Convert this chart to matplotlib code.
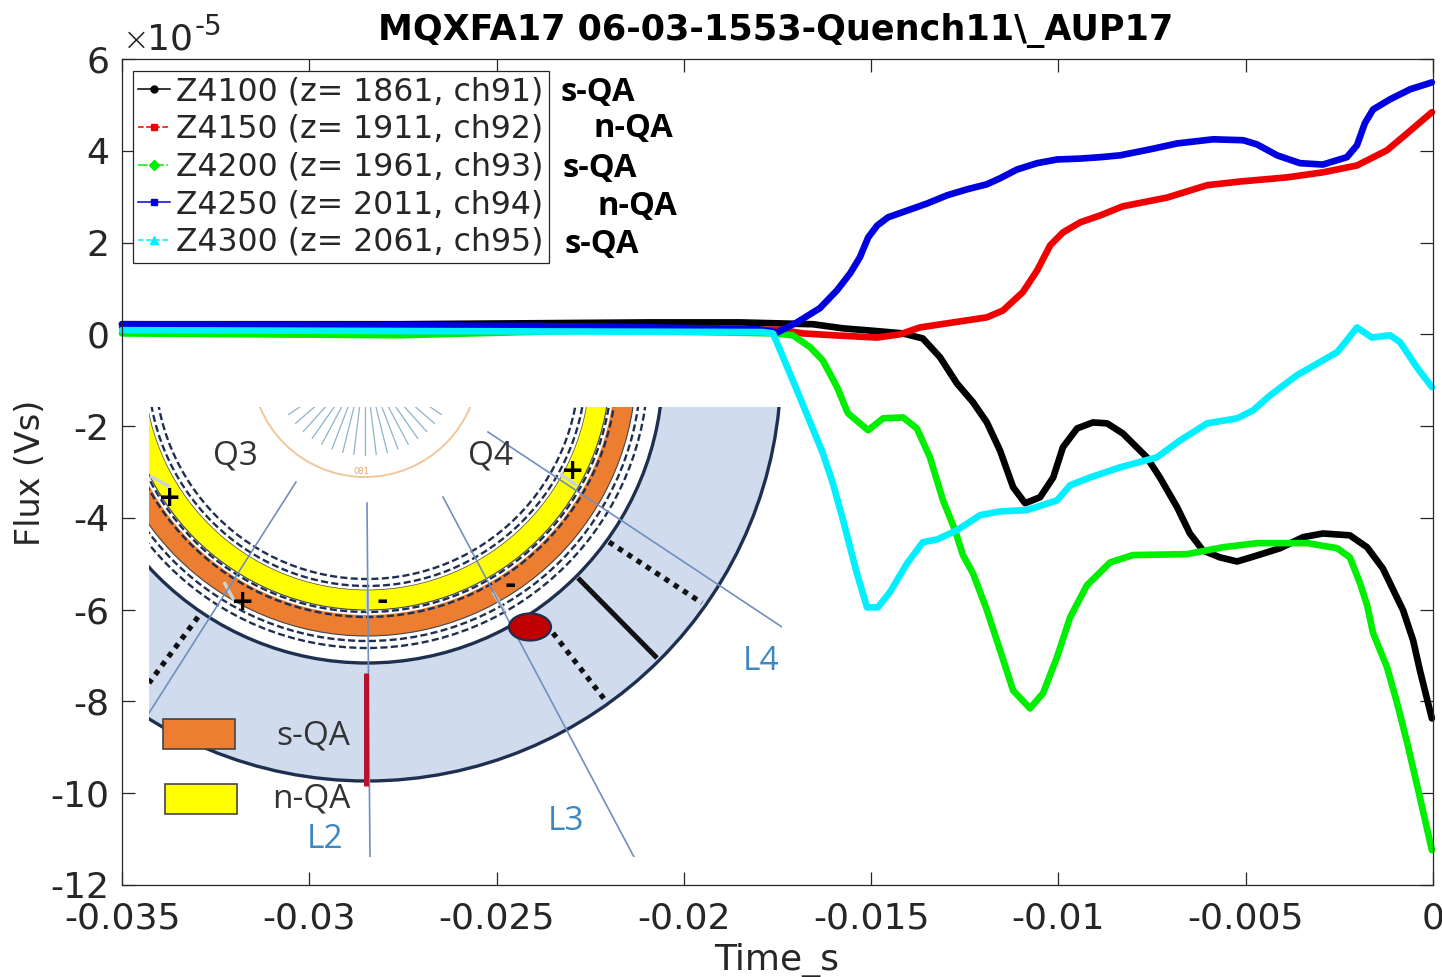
import numpy as np
import matplotlib
matplotlib.use("Agg")
import matplotlib.pyplot as plt
from matplotlib.lines import Line2D
from matplotlib.patches import Circle, Ellipse, Rectangle

plt.rcParams['font.family'] = ['DejaVu Sans']
plt.rcParams['axes.unicode_minus'] = False

TITLE = r"MQXFA17 06-03-1553-Quench11\_AUP17"
X_TICKS = [-0.035, -0.03, -0.025, -0.02, -0.015, -0.01, -0.005, 0]
X_LABELS = ["-0.035", "-0.03", "-0.025", "-0.02", "-0.015", "-0.01", "-0.005", "0"]
Y_TICKS = [-12, -10, -8, -6, -4, -2, 0, 2, 4, 6]
LEGEND_LABELS = ["Z4100 (z= 1861, ch91)", "Z4150 (z= 1911, ch92)", "Z4200 (z= 1961, ch93)",
                 "Z4250 (z= 2011, ch94)", "Z4300 (z= 2061, ch95)"]
QA_LABELS = ["s-QA", "n-QA", "s-QA", "n-QA", "s-QA"]

# time in ms, flux in 1e-5 Vs
t_black = [-35, -27.6, -20.9, -18.5, -16.55, -15.75, -14.84, -14.15, -13.62, -13.16, -12.71, -12.28, -11.91, -11.56,
           -11.21, -10.89, -10.49, -10.14, -9.88, -9.50, -9.08, -8.70, -8.28, -7.64, -7.29, -6.83, -6.49, -6.14,
           -5.69, -5.23, -4.70, -4.08, -3.47, -2.94, -2.22, -1.76, -1.34, -0.80, -0.53, -0.35, -0.03]
f_black = [0.22, 0.22, 0.26, 0.26, 0.22, 0.13, 0.07, 0.02, -0.09, -0.50, -1.07, -1.48, -1.92, -2.53,
           -3.33, -3.68, -3.55, -3.12, -2.46, -2.05, -1.92, -1.94, -2.16, -2.68, -3.12, -3.77, -4.34, -4.71,
           -4.86, -4.95, -4.82, -4.66, -4.42, -4.34, -4.38, -4.64, -5.10, -6.01, -6.67, -7.32, -8.37]

t_red = [-35, -17.43, -16.82, -16.02, -14.84, -14.23, -13.70, -12.97, -11.91, -11.48, -10.95, -10.57, -10.22, -9.88,
         -9.42, -8.89, -8.28, -7.10, -6.03, -5.15, -3.90, -2.94, -2.03, -1.23, -0.69, -0.03]
f_red = [0.15, 0.1, 0.02, -0.02, -0.07, 0.0, 0.15, 0.24, 0.37, 0.52, 0.92, 1.39, 1.94, 2.22,
         2.44, 2.59, 2.79, 2.98, 3.25, 3.33, 3.42, 3.53, 3.68, 4.01, 4.38, 4.84]

t_green = [-35, -27.6, -22.3, -17.57, -17.09, -16.63, -16.29, -15.91, -15.62, -15.08, -14.68, -14.15, -13.78, -13.43,
           -13.08, -12.76, -12.55, -12.28, -11.91, -11.56, -11.21, -10.76, -10.41, -10.04, -9.69, -9.24, -8.62,
           -8.01, -6.57, -5.61, -4.70, -3.36, -2.56, -2.22, -1.95, -1.76, -1.60, -1.23, -0.96, -0.69, -0.35, -0.03]
f_green = [0.02, -0.02, 0.09, 0.02, -0.02, -0.28, -0.57, -1.15, -1.72, -2.09, -1.83, -1.81, -2.05, -2.68,
           -3.62, -4.27, -4.81, -5.21, -6.01, -6.88, -7.76, -8.15, -7.82, -7.04, -6.17, -5.47, -4.97,
           -4.81, -4.79, -4.64, -4.55, -4.55, -4.66, -4.86, -5.42, -5.90, -6.51, -7.25, -8.03, -8.90, -10.09, -11.24]

t_blue = [-35, -27.58, -22.2, -18.0, -17.51, -16.98, -16.37, -15.91, -15.56, -15.30, -15.08, -14.84, -14.55, -13.96,
          -13.51, -12.97, -12.44, -11.91, -11.56, -11.11, -10.57, -10.04, -9.42, -8.89, -8.36, -7.56, -6.83, -5.87,
          -5.07, -4.70, -4.16, -3.55, -2.94, -2.30, -2.03, -1.82, -1.60, -1.15, -0.61, -0.03]
f_blue = [0.22, 0.20, 0.17, 0.11, 0.04, 0.26, 0.57, 0.96, 1.33, 1.68, 2.11, 2.37, 2.55, 2.72,
          2.85, 3.03, 3.16, 3.27, 3.40, 3.59, 3.73, 3.81, 3.83, 3.86, 3.90, 4.03, 4.16, 4.25,
          4.23, 4.14, 3.90, 3.73, 3.70, 3.86, 4.12, 4.60, 4.90, 5.12, 5.34, 5.49]

t_cyan = [-35, -17.9, -17.62, -16.98, -16.29, -16.02, -15.75, -15.38, -15.11, -14.82, -14.50, -14.04, -13.62, -13.24,
          -12.71, -12.09, -11.56, -10.84, -10.04, -9.69, -9.16, -8.36, -7.37, -6.75, -6.03, -5.23, -4.81, -4.35,
          -3.63, -2.56, -2.30, -2.03, -1.63, -1.15, -0.88, -0.43, -0.03]
f_cyan = [0.09, 0.05, 0.02, -1.22, -2.59, -3.25, -4.05, -5.21, -5.95, -5.95, -5.62, -4.99, -4.53, -4.47,
          -4.27, -3.94, -3.86, -3.83, -3.62, -3.29, -3.12, -2.90, -2.68, -2.31, -1.94, -1.83, -1.66, -1.33,
          -0.89, -0.39, -0.13, 0.15, -0.07, -0.02, -0.17, -0.72, -1.15]

SERIES = [(t_black, f_black, "#000000"), (t_red, f_red, "#f00000"), (t_green, f_green, "#00ee00"),
          (t_blue, f_blue, "#0000e0"), (t_cyan, f_cyan, "#00f0ff")]
HANDLE_STYLES = [("-", "o", 5), ("--", "s", 4.5), ("-.", "D", 5), ("-", "s", 4.5), ("--", "^", 6)]

W, H = 1442, 977
GREY = "#262626"
fig = plt.figure(figsize=(W / 100, H / 100), dpi=100)
ax = fig.add_axes([122 / W, (H - 885) / H, 1311 / W, 826 / H])

for t, f, c in SERIES:
    ax.plot(np.array(t) * 1e-3, f, color=c, lw=4.8, solid_joinstyle="round", solid_capstyle="round", clip_on=False)

ax.set_xlim(-0.035, 0)
ax.set_ylim(-12, 6)
ax.set_xticks(X_TICKS)
ax.set_xticklabels(X_LABELS)
ax.set_yticks(Y_TICKS)
ax.set_yticklabels([str(v) for v in Y_TICKS])
ax.tick_params(direction="in", length=9.5, width=0.9, top=True, right=True, labelsize=26, colors=GREY)
ax.tick_params(axis="x", pad=12)
ax.tick_params(axis="y", pad=9)
for s in ax.spines.values():
    s.set_linewidth(0.9)
    s.set_color(GREY)

fig.text(776 / W, 1 - 31 / H, TITLE, ha="center", va="center", fontsize=25.2, fontweight="bold", color="black")
fig.text(30 / W, 1 - 473 / H, "Flux (Vs)", rotation=90, ha="center", va="center", fontsize=24, color=GREY)
fig.text(777 / W, 1 - 960 / H, "Time_s", ha="center", va="center", fontsize=26, color=GREY)
fig.text(123 / W, 1 - 41 / H, "×", ha="left", va="center", fontsize=23, color=GREY, fontweight="light")
fig.text(147 / W, 1 - 40 / H, "10", ha="left", va="center", fontsize=26, color=GREY)
fig.text(195 / W, 1 - 27 / H, "-5", ha="left", va="center", fontsize=20, color=GREY)

handles = [Line2D([], [], color=c, ls=ls, lw=1.1, marker=m, markersize=ms, markerfacecolor=c, markeredgecolor=c)
           for (_, _, c), (ls, m, ms) in zip(SERIES, HANDLE_STYLES)]
leg = ax.legend(handles, LEGEND_LABELS, loc="upper left", bbox_to_anchor=(133 / W, 1 - 71 / H),
                bbox_transform=fig.transFigure, borderaxespad=0, fontsize=22.7, frameon=True, fancybox=False,
                framealpha=1, edgecolor=GREY, handlelength=1.0, handletextpad=0.2, labelspacing=0.21,
                borderpad=0.17, numpoints=1)
leg.get_frame().set_linewidth(0.9)
for txt in leg.get_texts():
    txt.set_color(GREY)

qa_x = [560, 594, 563, 598, 564]
qa_y = [93, 129, 169, 207, 245]
for x, y, s in zip(qa_x, qa_y, QA_LABELS):
    fig.text(x / W, 1 - y / H, s, ha="left", va="center", fontsize=23.5, fontweight="bold",
             family="Open Sans", color="black")

# ---- embedded magnet cross-section schematic ----
ins = fig.add_axes([149 / W, (H - 857) / H, 633 / W, 450 / H], zorder=5)
ins.set_xlim(149, 782)
ins.set_ylim(857, 407)
ins.set_xticks([])
ins.set_yticks([])
for s in ins.spines.values():
    s.set_visible(False)

NAVY = "#1f2f4f"
CX, CY = 367, 367
ins.add_patch(Circle((CX, CY), 414, fc="#d0dcee", ec=NAVY, lw=2.4))
ins.add_patch(Circle((CX, CY), 296, fc="white", ec=NAVY, lw=2.4))
ins.add_patch(Circle((CX, CY), 269, fc="#ed7d31", ec="#444444", lw=0.8))
ins.add_patch(Circle((CX, CY), 248, fc="white", ec="none"))
ins.add_patch(Circle((CX, CY), 243, fc="#ffff00", ec="#444444", lw=0.8))
ins.add_patch(Circle((CX, CY), 223, fc="white", ec="#444444", lw=0.5))
for r in (212, 219, 245, 250, 274, 281):
    ins.add_patch(Circle((CX, CY), r, fc="none", ec=NAVY, lw=1.7, ls=(0, (3, 1.4))))

# small inner instrument arc with spokes
ins.add_patch(Circle((365, 363), 114, fc="white", ec="#f0c79a", lw=1.4))
for a in np.arange(-56, 57, 7):
    s, c = np.sin(np.radians(a)), np.cos(np.radians(a))
    ins.plot([365 + 40 * s, 365 + 92 * s], [363 + 40 * c, 363 + 92 * c], color="#8fb3c9", lw=0.9)
ins.text(361, 471, "081", ha="center", va="center", fontsize=6, color="#e8a860")

# segment gaps
for x0, y0, x1, y1 in [(367, 590, 367, 612), (493, 592, 505, 612), (224, 582, 236, 604),
                       (560, 474, 578, 486), (150, 476, 170, 487)]:
    ins.plot([x0, x1], [y0, y1], color="#c8d4d8", lw=2.4, solid_capstyle="butt")

# ring lines
ins.plot([578, 657], [578, 658], color="#111111", lw=3.6, solid_capstyle="butt")
ins.plot([609, 702], [542, 603], color="#111111", lw=3.8, ls=(0, (1, 1.1)))
ins.plot([553, 605], [633, 700], color="#111111", lw=3.8, ls=(0, (1, 1.1)))
ins.plot([198, 149], [617, 683], color="#111111", lw=3.8, ls=(0, (1, 1.1)))

# locator lines
for x0, y0, x1, y1 in [(367, 503, 370, 857), (443, 497, 634, 857), (488, 432, 785, 629), (296, 482, 149, 713)]:
    ins.plot([x0, x1], [y0, y1], color="#6f8fbf", lw=1.2)

ins.plot([366, 366], [673, 786], color="#b5122d", lw=3.6, solid_capstyle="butt")
ins.add_patch(Ellipse((530, 627), 42, 27, fc="#c00000", ec=NAVY, lw=1.6, zorder=6))

ins.add_patch(Rectangle((163, 719), 72, 30, fc="#ed7d31", ec="#444444", lw=1.2))
ins.add_patch(Rectangle((165, 784), 72, 30, fc="#ffff00", ec="#444444", lw=1.2))

for x, y, s, col, fs in [(235, 456, "Q3", "#333333", 24), (490, 456, "Q4", "#333333", 24),
                         (313, 736, "s-QA", "#333333", 24), (311, 799, "n-QA", "#333333", 24),
                         (325, 839, "L2", "#3b88c3", 24), (566, 822, "L3", "#3b88c3", 24),
                         (761, 662, "L4", "#3b88c3", 24)]:
    ins.text(x, y, s, ha="center", va="center", fontsize=fs, color=col, family="Open Sans")
for x, y, s in [(170, 498, "+"), (243, 602, "+"), (573, 471, "+"), (382, 601, "-"), (510, 585, "-")]:
    ins.text(x, y, s, ha="center", va="center", fontsize=20, fontweight="bold", color="black")

fig.savefig("out.png", dpi=100)
